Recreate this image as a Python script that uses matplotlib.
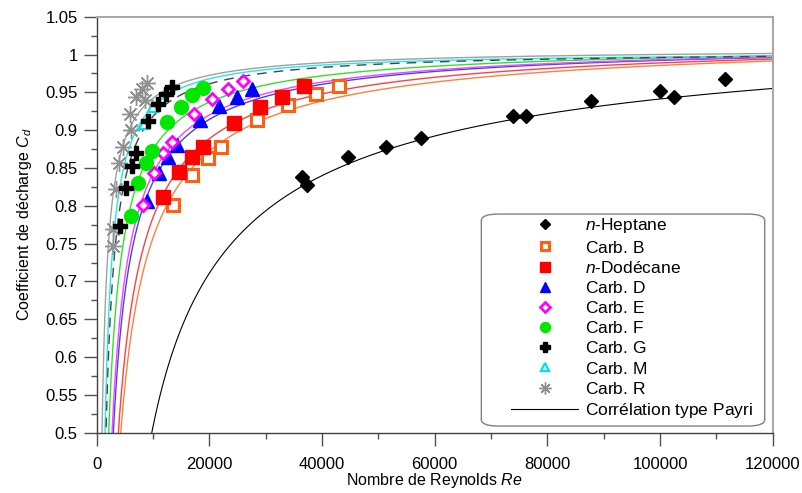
import numpy as np
import matplotlib
matplotlib.use("Agg")
from matplotlib import pyplot as plt
from matplotlib.patches import FancyBboxPatch
from matplotlib.ticker import MultipleLocator, FormatStrFormatter

plt.rcParams['font.family'] = ['Liberation Sans', 'DejaVu Sans']
plt.rcParams['mathtext.fontset'] = 'custom'
plt.rcParams['mathtext.rm'] = 'Liberation Sans'
plt.rcParams['mathtext.it'] = 'Liberation Sans:italic'

# measured points (Re, Cd) for each fuel
re_heptane = [36400, 37400, 44600, 51400, 57500, 73900, 76200, 87800, 99900, 102400, 111500]
cd_heptane = [0.8385, 0.828, 0.8645, 0.878, 0.890, 0.919, 0.919, 0.938, 0.952, 0.944, 0.967]

re_b = [13630, 17000, 19740, 22100, 28500, 34040, 38910, 43040]
cd_b = [0.801, 0.841, 0.863, 0.878, 0.9135, 0.9335, 0.948, 0.958]

re_dodecane = [11860, 14640, 16900, 18960, 24460, 29020, 32980, 36830]
cd_dodecane = [0.812, 0.845, 0.864, 0.878, 0.910, 0.931, 0.944, 0.959]

re_d = [8910, 11090, 12740, 14340, 18370, 21740, 24890, 27550]
cd_d = [0.806, 0.844, 0.865, 0.881, 0.914, 0.932, 0.944, 0.954]

re_e = [8310, 10260, 11860, 13450, 17310, 20550, 23390, 25950]
cd_e = [0.801, 0.844, 0.870, 0.885, 0.922, 0.941, 0.954, 0.965]

re_f = [6070, 7310, 8730, 9800, 12570, 15000, 17000, 18850]
cd_f = [0.787, 0.830, 0.856, 0.873, 0.911, 0.931, 0.946, 0.956]

re_g = [4170, 5200, 6210, 6920, 9050, 10830, 12300, 13450]
cd_g = [0.773, 0.824, 0.853, 0.870, 0.912, 0.934, 0.948, 0.957]

re_m = [8430, 10080]
cd_m = [0.908, 0.931]

re_r = [2950, 2900, 3450, 4050, 4650, 5950, 6100, 6950, 8150, 8550, 8900]
cd_r = [0.747, 0.769, 0.822, 0.857, 0.878, 0.921, 0.900, 0.944, 0.955, 0.940, 0.962]

# points read on each correlation curve (first one = where the curve crosses Cd = 0.5)
curve_re_heptane = [9800, 37400, 57500, 120000]
curve_cd_heptane = [0.5, 0.828, 0.890, 0.9542]
curve_re_b = [4300, 22100, 40600, 120000]
curve_cd_b = [0.5, 0.878, 0.949, 0.9877]
curve_re_dodecane = [3870, 14640, 40600, 120000]
curve_cd_dodecane = [0.5, 0.845, 0.9563, 0.990]
curve_re_d = [2980, 11090, 40600, 120000]
curve_cd_d = [0.5, 0.844, 0.9675, 0.9923]
curve_re_e = [2750, 10260, 40600, 120000]
curve_cd_e = [0.5, 0.844, 0.9696, 0.9934]
curve_re_f = [2160, 7310, 40600, 120000]
curve_cd_f = [0.5, 0.830, 0.9767, 0.9952]
curve_re_g = [1690, 11800, 40600, 120000]
curve_cd_g = [0.5, 0.931, 0.984, 0.997]
curve_re_m = [1500, 10080, 40600, 120000]
curve_cd_m = [0.5, 0.931, 0.9886, 0.9963]
curve_re_r = [976, 4650, 40600, 120000]
curve_cd_r = [0.5, 0.878, 0.993, 0.9983]


def payri_fit(re_pts, cd_pts):
    """fit Cd = A - B * Re^-n through the points read on a curve"""
    re_pts = np.array(re_pts, dtype=float)
    cd_pts = np.array(cd_pts, dtype=float)
    best = None
    for n in np.linspace(0.3, 1.6, 521):
        mat = np.column_stack([np.ones_like(re_pts), -re_pts ** -n])
        coef = np.linalg.lstsq(mat, cd_pts, rcond=None)[0]
        err = np.sum((mat @ coef - cd_pts) ** 2)
        if best is None or err < best[0]:
            best = (err, coef[0], coef[1], n)
    return best[1:]


fig = plt.figure(figsize=(8.03, 4.93), dpi=100)
ax = fig.add_axes([0.1202, 0.1223, 0.8422, 0.8438])

re_line = np.linspace(300, 120000, 4000)

curves = [
    (curve_re_heptane, curve_cd_heptane, 'black', '-'),
    (curve_re_b, curve_cd_b, '#ff7f3f', '-'),
    (curve_re_dodecane, curve_cd_dodecane, '#ff4040', '-'),
    (curve_re_d, curve_cd_d, '#4040ff', '-'),
    (curve_re_e, curve_cd_e, '#ff40ff', '-'),
    (curve_re_f, curve_cd_f, '#30e030', '-'),
    (curve_re_m, curve_cd_m, '#20e8f0', '-'),
    (curve_re_r, curve_cd_r, '#a0a0a0', '-'),
    (curve_re_g, curve_cd_g, '#404848', (0, (7, 5))),
]
for re_pts, cd_pts, col, ls in curves:
    a, b, n = payri_fit(re_pts, cd_pts)
    lw = 1.0 if col != 'black' else 0.8
    ax.plot(re_line, a - b * re_line ** -n, color=col, lw=lw, ls=ls, zorder=2)

# markers (labels all in mathtext so legend rows have equal heights)
ax.plot(re_heptane, cd_heptane, ls='none', marker='D', ms=7.5, color='black',
        label=r'$n\text{-Heptane}$', zorder=5)
ax.plot(re_b, cd_b, ls='none', marker='s', ms=8, mfc='white', mec='#ff6010', mew=2.2,
        label=r'$\text{Carb. B}$', zorder=5)
ax.plot(re_dodecane, cd_dodecane, ls='none', marker='s', ms=9.5, color='#ff0000',
        label=r'$n\text{-Dodécane}$', zorder=5)
ax.plot(re_d, cd_d, ls='none', marker='^', ms=9.5, color='#0000ff',
        label=r'$\text{Carb. D}$', zorder=5)
ax.plot(re_e, cd_e, ls='none', marker='D', ms=6.5, mfc='white', mec='#ff00ff', mew=2,
        label=r'$\text{Carb. E}$', zorder=5)
ax.plot(re_f, cd_f, ls='none', marker='o', ms=10, color='#00e800',
        label=r'$\text{Carb. F}$', zorder=5)
ax.plot(re_m, cd_m, ls='none', marker='^', ms=7.5, mfc='white', mec='#00e0f0', mew=1.6,
        label=r'$\text{Carb. M}$', zorder=5)
ax.plot(re_g, cd_g, ls='none', marker='P', ms=10, color='black', mec='black',
        label=r'$\text{Carb. G}$', zorder=6)
ax.plot(re_r, cd_r, ls='none', marker=(8, 2, 0), ms=12, mew=1, color='#909090',
        label=r'$\text{Carb. R}$', zorder=5)
ax.plot([], [], color='black', lw=0.8, label=r'$\text{Corrélation type Payri}$')

ax.set_xlim(0, 120000)
ax.set_ylim(0.5, 1.05)
ax.xaxis.set_major_locator(MultipleLocator(20000))
ax.xaxis.set_minor_locator(MultipleLocator(10000))
ax.yaxis.set_major_locator(MultipleLocator(0.05))
ax.yaxis.set_minor_locator(MultipleLocator(0.025))
ax.yaxis.set_major_formatter(FormatStrFormatter('%g'))
ax.tick_params(which='major', direction='out', length=9.5, width=1, color='#505050',
               labelsize=12, pad=4)
ax.tick_params(axis='x', which='major', pad=8)
ax.tick_params(which='minor', direction='out', length=4.5, width=1, color='#505050')

for side in ['left', 'bottom']:
    ax.spines[side].set_color('#404040')
    ax.spines[side].set_linewidth(1)
for side in ['top', 'right']:
    ax.spines[side].set_color('#a8a8a8')
    ax.spines[side].set_linewidth(1.5)

ax.set_xlabel('Nombre de Reynolds $Re$', fontsize=11.5, labelpad=-1)
ax.set_ylabel('Coefficient de décharge $C_d$', fontsize=11.5, labelpad=8)

# legend: G comes before M, frame drawn separately (wide left margin)
handles, labels = ax.get_legend_handles_labels()
order = [0, 1, 2, 3, 4, 5, 7, 6, 8, 9]
leg = ax.legend([handles[i] for i in order], [labels[i] for i in order],
                loc='upper left', bbox_to_anchor=(0.6134, 0.52), fontsize=12.5,
                handlelength=3.85, handletextpad=0.4, labelspacing=0.24,
                markerscale=0.72, borderpad=0.0, borderaxespad=0.0, frameon=False)
leg.set_zorder(8)
frame = FancyBboxPatch((0.569, 0.016), 0.419, 0.5096, transform=ax.transAxes,
                       boxstyle='round,pad=0,rounding_size=0.025', mutation_aspect=0.62,
                       fc='white', ec='#808080', lw=1, zorder=7)
ax.add_patch(frame)

fig.savefig('out.png', dpi=100, facecolor='white')
